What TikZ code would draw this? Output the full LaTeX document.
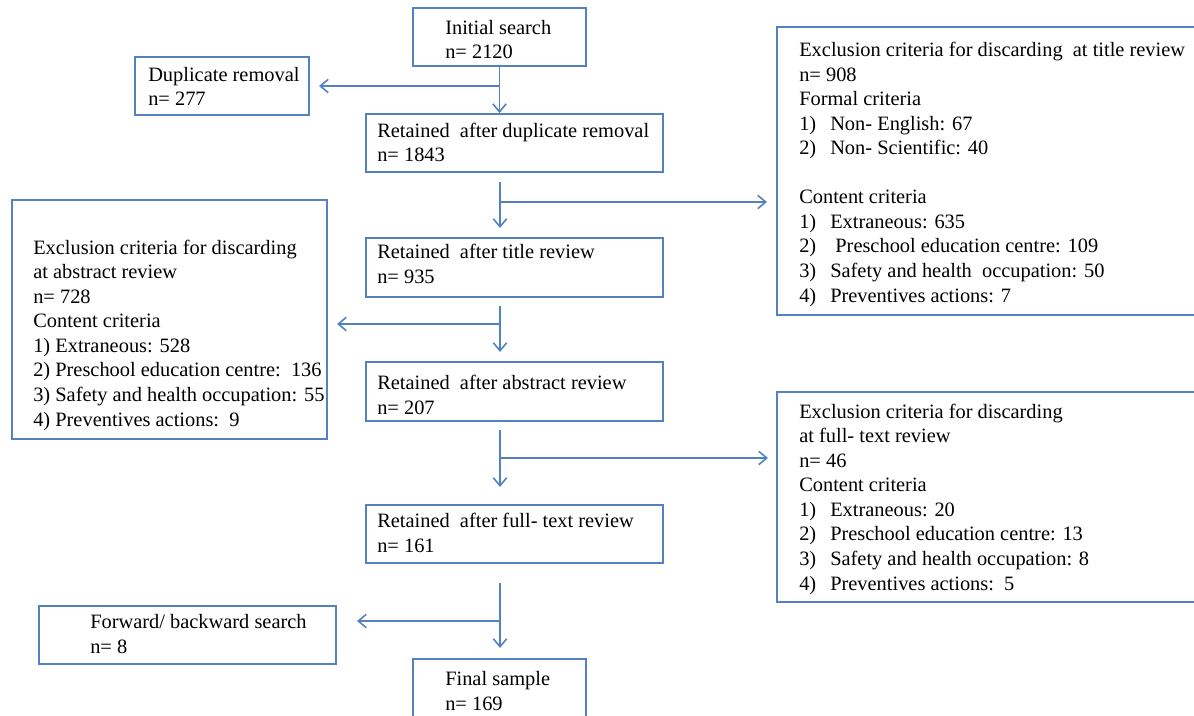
\documentclass[tikz,border=0pt]{standalone}
\usepackage{fontspec}
\setmainfont{Liberation Serif}
\usetikzlibrary{arrows.meta,fit}
\definecolor{boxblue}{RGB}{84,130,192}
\newcommand{\itm}[2]{\makebox[23.25pt][l]{#1}#2}
\tikzset{
  x=0.75pt, y=-0.75pt,
  box/.style={draw=boxblue, line width=1.4pt, inner sep=0pt, rectangle},
  txt/.style={anchor=base west, align=left, inner sep=0pt,
    font=\fontsize{15.3pt}{18.4pt}\selectfont},
  arr/.style={draw=boxblue, line width=1.2pt, -{Straight Barb[length=6pt,width=10pt]}}
}
\begin{document}
\begin{tikzpicture}
\useasboundingbox (0,0) rectangle (1194,716);
% boxes
\node[box, fit={(413,8) (586,66)}] (init) {};
\node[box, fit={(135,57) (309,115)}] (dupl) {};
\node[box, fit={(366,114) (663,172)}] (dup2) {};
\node[box, fit={(777,27) (1205,315)}] (titlex) {};
\node[box, fit={(366,238) (663,297)}] (title2) {};
\node[box, fit={(12,200) (327,439)}] (absx) {};
\node[box, fit={(366,362) (663,421)}] (abs2) {};
\node[box, fit={(777,392) (1205,602)}] (fullx) {};
\node[box, fit={(366,505) (663,563)}] (full2) {};
\node[box, fit={(39,606) (336,664)}] (fwd) {};
\node[box, fit={(413,659) (586,730)}] (final) {};
% texts (anchored at the baseline of the last line)
\node[txt] (init-t) at (445,59) {Initial search\\n= 2120};
\node[txt] (dupl-t) at (148,106) {Duplicate removal\\n= 277};
\node[txt] (dup2-t) at (377,162) {Retained\ \ after duplicate removal\\n= 1843};
\node[txt] (titlex-t) at (799,302) {Exclusion criteria for discarding\ \ at title review\\
n= 908\\
Formal criteria\\
\itm{1)}{Non- English: 67}\\
\itm{2)}{Non- Scientific: 40}\\[18.4pt]
Content criteria\\
\itm{1)}{Extraneous: 635}\\
\itm{2)}{\ Preschool education centre: 109}\\
\itm{3)}{Safety and health\ \ occupation: 50}\\
\itm{4)}{Preventives actions: 7}};
\node[txt] (title2-t) at (377,283) {Retained\ \ after title review\\n= 935};
\node[txt] (absx-t) at (33,426) {Exclusion criteria for discarding\\
at abstract review\\
n= 728\\
Content criteria\\
1) Extraneous: 528\\
2) Preschool education centre:\ \ 136\\
3) Safety and health occupation: 55\\
4) Preventives actions:\ \ 9};
\node[txt] (abs2-t) at (377,414) {Retained\ \ after abstract review\\n= 207};
\node[txt] (fullx-t) at (799,590) {Exclusion criteria for discarding\\
at full- text review\\
n= 46\\
Content criteria\\
\itm{1)}{Extraneous: 20}\\
\itm{2)}{Preschool education centre: 13}\\
\itm{3)}{Safety and health occupation: 8}\\
\itm{4)}{Preventives actions:\ \ 5}};
\node[txt] (full2-t) at (377,552) {Retained\ \ after full- text review\\n= 161};
\node[txt] (fwd-t) at (90,653) {Forward/ backward search\\n= 8};
\node[txt] (final-t) at (445,710) {Final sample\\n= 169};
% coordinates
\coordinate (s1) at (init.south);
\coordinate (j1) at (s1 |- dupl.east);
\coordinate (t1) at (319,86);
\coordinate (s2) at (500,182);
\coordinate (j2) at (500,202);
\coordinate (t2) at (767,202);
\coordinate (e2) at (500,228);
\coordinate (s3) at (500,306);
\coordinate (j3) at (500,324);
\coordinate (t3) at (337,324);
\coordinate (e3) at (500,352);
\coordinate (s4) at (500,430);
\coordinate (j4) at (500,458);
\coordinate (t4) at (768,458);
\coordinate (e4) at (500,487);
\coordinate (s5) at (500,583);
\coordinate (j5) at (500,621);
\coordinate (t5) at (357,621);
\coordinate (e5) at (500,648);
% connectors
\draw[arr] (s1) -- (s1 |- dup2.north);
\draw[arr] (j1) -- (t1);
\draw[arr] (s2) -- (e2);
\draw[arr] (j2) -- (t2);
\draw[arr] (s3) -- (e3);
\draw[arr] (j3) -- (t3);
\draw[arr] (s4) -- (e4);
\draw[arr] (j4) -- (t4);
\draw[arr] (s5) -- (e5);
\draw[arr] (j5) -- (t5);
\end{tikzpicture}
\end{document}
